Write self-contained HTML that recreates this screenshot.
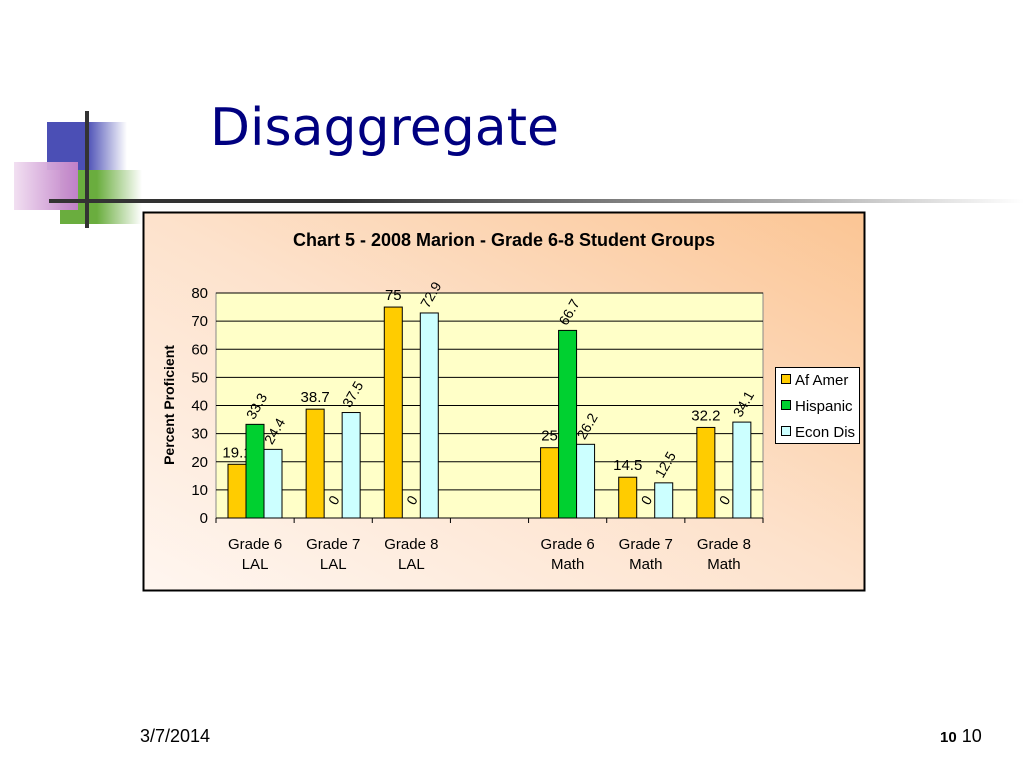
<!DOCTYPE html>
<html><head><meta charset="utf-8"><style>
body{margin:0;width:1024px;height:768px;background:#fff;position:relative;overflow:hidden;font-family:"Liberation Sans",sans-serif}
.abs{position:absolute}
</style></head><body>
<div class="abs" style="left:47px;top:122px;width:80px;height:48px;background:linear-gradient(90deg,#4b4fb5 50%,rgba(75,79,181,0))"></div>
<div class="abs" style="left:60px;top:170px;width:82px;height:54px;background:linear-gradient(90deg,#6aad3e 45%,rgba(106,173,62,0))"></div>
<div class="abs" style="left:14px;top:162px;width:64px;height:48px;background:linear-gradient(90deg,rgba(240,220,240,0.9),#c080c8)"></div>
<div class="abs" style="left:85px;top:111px;width:4px;height:117px;background:#333"></div>
<div class="abs" style="left:49px;top:199px;width:975px;height:4px;background:linear-gradient(90deg,#333 30%,#aaa 75%,#fff)"></div>
<div class="abs" style="left:210px;top:98px;font-family:'DejaVu Sans',sans-serif;font-size:52px;color:#000080">Disaggregate</div>
<div class="abs" style="left:140px;top:726px;font-size:18px;color:#000">3/7/2014</div>
<div class="abs" style="left:940px;top:726px;font-size:18px;color:#000"><b style="font-size:15px">10</b> 10</div>
<svg class="abs" style="left:0;top:0" width="1024" height="768">
<defs><linearGradient id="bg" x1="0" y1="1" x2="1" y2="0"><stop offset="0" stop-color="#fff6f0"/><stop offset="0.5" stop-color="#fde2cc"/><stop offset="1" stop-color="#fbc594"/></linearGradient></defs>
<rect x="143.5" y="212.5" width="721" height="378" fill="url(#bg)" stroke="#000" stroke-width="2"/>
<text x="504" y="246" text-anchor="middle" font-size="18" font-weight="bold">Chart 5 - 2008 Marion - Grade 6-8 Student Groups</text>
<rect x="216" y="293" width="547" height="225" fill="#ffffc8" stroke="#888"/>
<g id="g"></g>
<text transform="translate(174,405) rotate(-90)" text-anchor="middle" font-size="14" font-weight="bold">Percent Proficient</text>
<g>
<rect x="775.5" y="367.5" width="84" height="76" fill="#fff" stroke="#000"/>
<rect x="781.5" y="374.5" width="9" height="9" fill="#ffcc00" stroke="#000"/><text x="795" y="385" font-size="15">Af Amer</text>
<rect x="781.5" y="400.5" width="9" height="9" fill="#00d030" stroke="#000"/><text x="795" y="411" font-size="15">Hispanic</text>
<rect x="781.5" y="426.5" width="9" height="9" fill="#ccffff" stroke="#000"/><text x="795" y="437" font-size="15">Econ Dis</text>
</g>
</svg>
<script>
const categories=["Grade 6|LAL","Grade 7|LAL","Grade 8|LAL","","Grade 6|Math","Grade 7|Math","Grade 8|Math"];
const afAmer=[19.1,38.7,75,null,25,14.5,32.2];
const hispanic=[33.3,0,0,null,66.7,0,0];
const econDis=[24.4,37.5,72.9,null,26.2,12.5,34.1];
const yTicks=[0,10,20,30,40,50,60,70,80];
const series=[[afAmer,"#ffcc00","af-amer",0],[hispanic,"#00d030","hispanic",1],[econDis,"#ccffff","econ-dis",1]];
const NS="http://www.w3.org/2000/svg",g=document.getElementById("g");
const x0=216,x1=763,yB=518,yT=293,yMax=80,cw=(x1-x0)/categories.length,bw=18;
const y=v=>yB-(v/yMax)*(yB-yT);
function mk(t,a,txt){const e=document.createElementNS(NS,t);for(const k in a)e.setAttribute(k,a[k]);if(txt!=null)e.textContent=txt;g.appendChild(e);return e;}
yTicks.forEach(t=>{
 if(t>0){const l=mk("line",{x1:x0,x2:x1,y1:y(t),y2:y(t),stroke:"#000"});
 
 }
 const tx=mk("text",{x:x0-8,y:y(t)+5,"text-anchor":"end","font-size":15},t);
 
 
});
const ax=mk("line",{x1:x0,x2:x1,y1:yB,y2:yB,stroke:"#000"});


for(let i=0;i<=categories.length;i++){const tk=mk("line",{x1:x0+i*cw,x2:x0+i*cw,y1:yB,y2:yB+5,stroke:"#000"});
 
 }
categories.forEach((c,i)=>{
 if(!c)return;const cx=x0+(i+0.5)*cw;const p=c.split("|");
 const t1=mk("text",{x:cx,y:549,"text-anchor":"middle","font-size":15},p[0]);
 
 
 const t2=mk("text",{x:cx,y:569,"text-anchor":"middle","font-size":15},p[1]);
 
 
 series.forEach((s,j)=>{
  const v=s[0][i];if(v==null)return;
  const bx=x0+i*cw+12+j*bw;
  if(v>0){const r=mk("rect",{x:bx,y:y(v),width:bw,height:yB-y(v),fill:s[1],stroke:"#000"});
   
   }
  let lb;
  if(v===0){lb=mk("text",{transform:`translate(${bx+12},${yB-12}) rotate(-60)`,"font-size":14},"0");}
  else if(s[3]){lb=mk("text",{transform:`translate(${bx+8},${y(v)-4}) rotate(-60)`,"font-size":14},v);}
  else{lb=mk("text",{x:bx+bw/2,y:y(v)-7,"text-anchor":"middle","font-size":15},v);}
  
  
 });
});
</script>
</body></html>
